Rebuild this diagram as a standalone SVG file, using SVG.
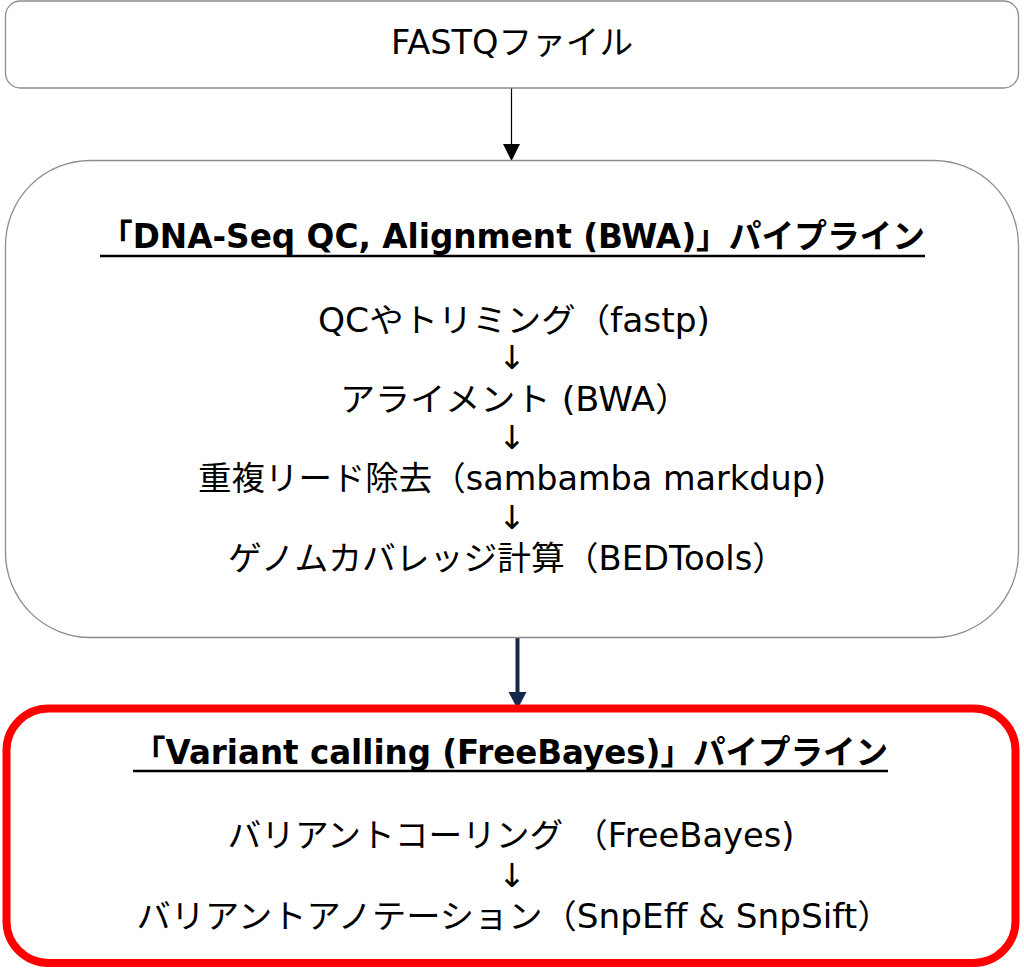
<svg xmlns="http://www.w3.org/2000/svg" width="1024" height="971" viewBox="0 0 1024 971">
<defs>
<style>
.box{fill:#ffffff;stroke:#8c8c8c;stroke-width:1.3}
.red{fill:#ffffff;stroke:#ff0000;stroke-width:8}
.t{font-family:"DejaVu Sans","Noto Sans CJK JP",sans-serif;font-size:33px;fill:#000;text-anchor:middle}
.a{font-family:"DejaVu Sans",sans-serif;font-size:33px;fill:#000;text-anchor:middle}
.h{font-family:"DejaVu Sans","Noto Sans CJK JP",sans-serif;font-size:33px;font-weight:bold;fill:#000}
.ul{stroke:#000;stroke-width:2.5}
</style>
</defs>
<rect width="1024" height="971" fill="#ffffff"/>
<g id="connectors">
<line x1="511.5" y1="88" x2="511.5" y2="145" stroke="#000" stroke-width="1.2"/>
<polygon points="503,144 520,144 511.5,161" fill="#000"/>
<line x1="517.5" y1="637" x2="517.5" y2="694" stroke="#14284b" stroke-width="4"/>
<polygon points="508.5,692 526.5,692 517.5,709" fill="#14284b"/>
</g>
<g id="fastq">
<rect class="box" x="5.5" y="1" width="1013" height="87" rx="15"/>
<text class="t" x="512" y="54" textLength="242" lengthAdjust="spacingAndGlyphs">FASTQファイル</text>
</g>
<g id="dnaseq">
<rect class="box" x="5.5" y="160.5" width="1013" height="477" rx="85"/>
<text class="h" x="100" y="248" textLength="825" lengthAdjust="spacingAndGlyphs">「DNA-Seq QC, Alignment (BWA)」パイプライン</text>
<line class="ul" x1="100" y1="256" x2="925" y2="256"/>
<text class="t" x="514" y="332" textLength="392" lengthAdjust="spacingAndGlyphs">QCやトリミング（fastp)</text>
<text class="a" x="512" y="369">↓</text>
<text class="t" x="515" y="411" textLength="350" lengthAdjust="spacingAndGlyphs">アライメント (BWA）</text>
<text class="a" x="512" y="449">↓</text>
<text class="t" x="512" y="490" textLength="628" lengthAdjust="spacingAndGlyphs">重複リード除去（sambamba markdup)</text>
<text class="a" x="512" y="529">↓</text>
<text class="t" x="507" y="570" textLength="558" lengthAdjust="spacingAndGlyphs">ゲノムカバレッジ計算（BEDTools）</text>
</g>
<g id="variant">
<rect class="red" x="6.5" y="708.5" width="1009" height="254.5" rx="42"/>
<text class="h" x="133" y="764" textLength="755" lengthAdjust="spacingAndGlyphs">「Variant calling (FreeBayes)」パイプライン</text>
<line class="ul" x1="133" y1="771" x2="888" y2="771"/>
<text class="t" x="511" y="847" textLength="567" lengthAdjust="spacingAndGlyphs">バリアントコーリング （FreeBayes)</text>
<text class="a" x="512" y="887">↓</text>
<text class="t" x="514" y="928" textLength="755" lengthAdjust="spacingAndGlyphs">バリアントアノテーション（SnpEff &amp; SnpSift）</text>
</g>
</svg>
